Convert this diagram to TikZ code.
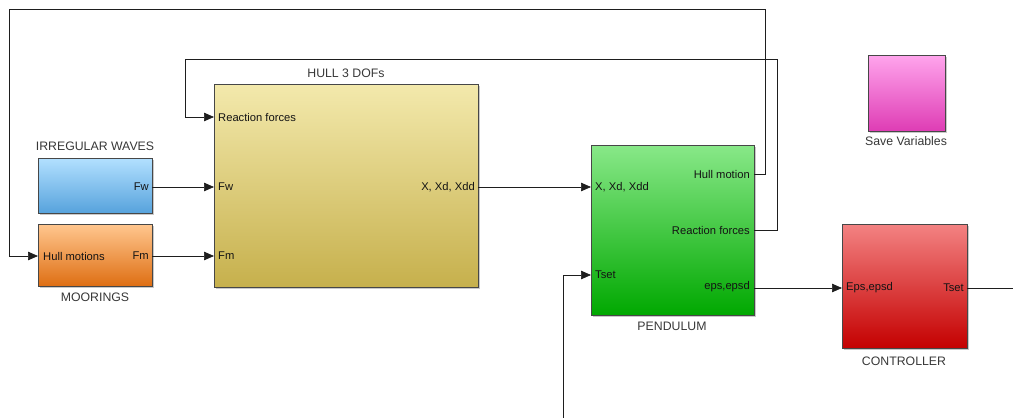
\documentclass[tikz,border=0pt]{standalone}
\usepackage{fontspec}
\setmainfont{Liberation Sans}
\usetikzlibrary{arrows.meta,shadows}
\definecolor{wire}{RGB}{30,30,30}
\definecolor{ttl}{RGB}{55,55,55}
\definecolor{prt}{RGB}{20,20,20}
\definecolor{blueT}{RGB}{178,224,255}
\definecolor{blueM}{RGB}{150,205,246}
\definecolor{blueB}{RGB}{86,162,220}
\definecolor{orT}{RGB}{255,198,142}
\definecolor{orM}{RGB}{247,172,104}
\definecolor{orB}{RGB}{222,110,18}
\definecolor{hullT}{RGB}{243,233,172}
\definecolor{hullM}{RGB}{234,221,150}
\definecolor{hullB}{RGB}{198,176,76}
\definecolor{grT}{RGB}{136,232,136}
\definecolor{grM}{RGB}{100,218,100}
\definecolor{grB}{RGB}{0,168,0}
\definecolor{rdT}{RGB}{243,130,130}
\definecolor{rdM}{RGB}{230,92,92}
\definecolor{rdB}{RGB}{196,0,0}
\definecolor{pkT}{RGB}{255,164,236}
\definecolor{pkM}{RGB}{246,132,216}
\definecolor{pkB}{RGB}{222,60,180}
\begin{document}
\begin{tikzpicture}[x=1pt,y=-1pt,
  block/.style={draw=black!72, line width=0.9pt, inner sep=0pt, anchor=north west,
    drop shadow={shadow xshift=2pt, shadow yshift=-2pt, opacity=0.3, fill=black!70}},
  title/.style={font=\fontsize{12.3}{14}\selectfont, text=ttl, inner sep=0pt},
  port/.style={font=\fontsize{11.2}{13}\selectfont, text=prt, inner sep=0pt},
  conn/.style={draw=wire, line width=0.7pt},
  arr/.style={conn, -{Triangle[length=10pt,width=8.5pt]}}]
\useasboundingbox (0,0) rectangle (1013,418);
% blocks
\node[block, top color=blueT, middle color=blueM, bottom color=blueB, minimum width=114pt, minimum height=55pt] (waves) at (38,158) {};
\node[block, top color=orT, middle color=orM, bottom color=orB, minimum width=114pt, minimum height=62pt] (moor) at (38,224) {};
\node[block, top color=hullT, middle color=hullM, bottom color=hullB, minimum width=264pt, minimum height=203pt] (hull) at (214,84) {};
\node[block, top color=grT, middle color=grM, bottom color=grB, minimum width=163pt, minimum height=170pt] (pend) at (591,145) {};
\node[block, top color=rdT, middle color=rdM, bottom color=rdB, minimum width=125pt, minimum height=124pt] (ctrl) at (842,224) {};
\node[block, top color=pkT, middle color=pkM, bottom color=pkB, minimum width=77pt, minimum height=76pt] (save) at (868,55) {};
% titles
\node[title] (tWaves) at (95,146) {IRREGULAR WAVES};
\node[title] (tMoor) at (95,297) {MOORINGS};
\node[title] (tHull) at (346,73) {HULL 3 DOFs};
\node[title] (tPend) at (672,326) {PENDULUM};
\node[title] (tCtrl) at (904,361) {CONTROLLER};
\node[title] (tSave) at (906,141) {Save Variables};
% port labels
\node[port, anchor=east] (lwFw) at (149,187) {Fw};
\node[port, anchor=west] (lmHm) at (43,256) {Hull motions};
\node[port, anchor=east] (lmFm) at (149,256) {Fm};
\node[port, anchor=west] (lhRF) at (218,117) {Reaction forces};
\node[port, anchor=west] (lhFw) at (218,187) {Fw};
\node[port, anchor=west] (lhFm) at (218,256) {Fm};
\node[port, anchor=east] (lhX) at (475,187) {X, Xd, Xdd};
\node[port, anchor=west] (lpX) at (595,187) {X, Xd, Xdd};
\node[port, anchor=east] (lpHm) at (750,174) {Hull motion};
\node[port, anchor=east] (lpRF) at (750,230) {Reaction forces};
\node[port, anchor=west] (lpT) at (595,275) {Tset};
\node[port, anchor=east] (lpE) at (750,287) {eps,epsd};
\node[port, anchor=west] (lcE) at (846,288) {Eps,epsd};
\node[port, anchor=east] (lcT) at (964,288) {Tset};
% port coordinates
\coordinate (wFw) at (152,187);
\coordinate (mIn) at (38,256);
\coordinate (mFm) at (152,256);
\coordinate (hRF) at (214,117);
\coordinate (hFw) at (214,187);
\coordinate (hFm) at (214,256);
\coordinate (hX) at (478,187);
\coordinate (pX) at (591,187);
\coordinate (pHm) at (754,174);
\coordinate (pRF) at (754,230);
\coordinate (pT) at (591,275);
\coordinate (pE) at (754,288);
\coordinate (cE) at (842,288);
\coordinate (cT) at (967,288);
\coordinate (rightEnd) at (1013,288);
\coordinate (bottomEnd) at (563,418);
% connectors
\draw[arr] (wFw) -- (hFw);
\draw[arr] (mFm) -- (hFm);
\draw[arr] (hX) -- (pX);
\draw[arr] (pE) -- (cE);
\draw[conn] (cT) -- (rightEnd);
\draw[arr] (pHm) -| (765,9) -| (9,256) -- (mIn);
\draw[arr] (pRF) -| (777,59) -| (185,117) -- (hRF);
\draw[arr] (bottomEnd) |- (pT);
\end{tikzpicture}
\end{document}
